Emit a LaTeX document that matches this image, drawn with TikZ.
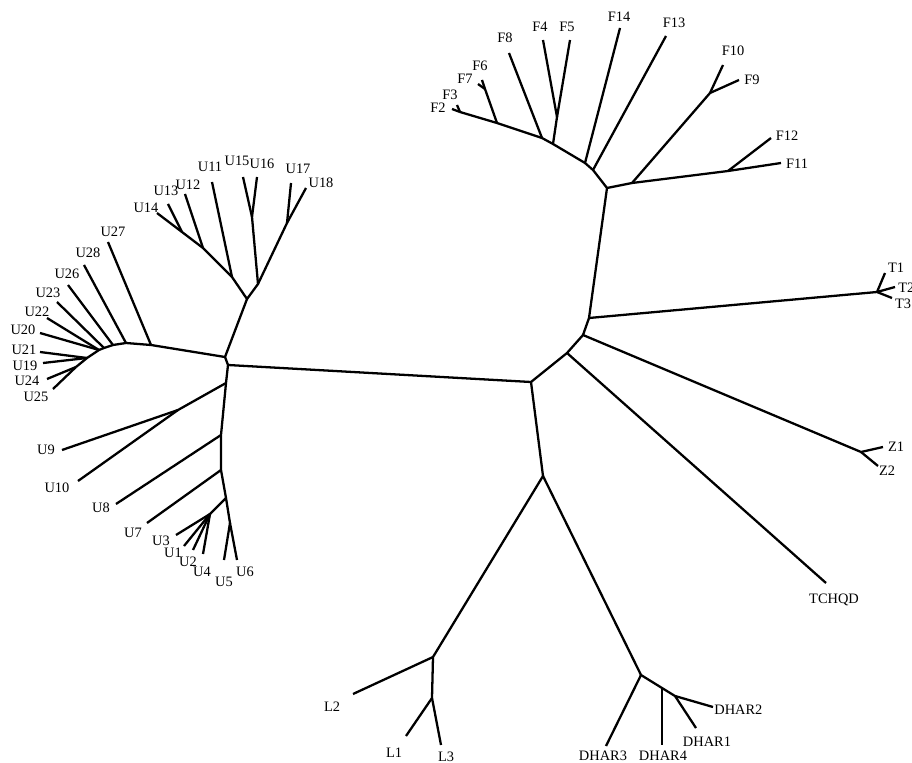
\documentclass[tikz,border=0pt]{standalone}
\usepackage{fontspec}
\setmainfont{Liberation Serif}
\tikzset{
  branch/.style={line width=1.3pt, line join=round},
  taxon/.style={font=\fontsize{8.2}{9}\selectfont, inner sep=0pt},
}
\begin{document}
\begin{tikzpicture}[x=0.02cm, y=-0.02cm]
    \useasboundingbox (0,0) rectangle (912,763);
    % Backbone
    \coordinate (hubA) at (225,357);
    \coordinate (hubB) at (228,365);
    \coordinate (mid) at (531,382);
    \coordinate (nTC) at (567,353);
    \coordinate (nZ) at (583,335);
    \coordinate (nT) at (589,318);
    \coordinate (nF) at (607,188);
    \coordinate (nLD) at (543,476);
    \draw[branch] (hubA) -- (hubB) -- (mid) -- (nTC) -- (nZ) -- (nT) -- (nF);
    \draw[branch] (mid) -- (nLD);
    % U clade, lower part
    \coordinate (uA) at (226,383);
    \coordinate (uB) at (221,435);
    \coordinate (uC) at (221,470);
    \coordinate (uD) at (226,498);
    \coordinate (uE) at (230,523);
    \coordinate (u910) at (178,410);
    \coordinate (u1234) at (210,514);
    \coordinate (tu9) at (62,450);
    \coordinate (tu10) at (78,481);
    \coordinate (tu8) at (116,504);
    \coordinate (tu7) at (147,523);
    \coordinate (tu3) at (176,535);
    \coordinate (tu1) at (184,546);
    \coordinate (tu2) at (193,550);
    \coordinate (tu4) at (203,554);
    \coordinate (tu5) at (224,560);
    \coordinate (tu6) at (237,560);
    \draw[branch] (hubB) -- (uA) -- (uB) -- (uC) -- (uD) -- (uE);
    \draw[branch] (uA) -- (u910) -- (tu9);
    \draw[branch] (u910) -- (tu10);
    \draw[branch] (uB) -- (tu8);
    \draw[branch] (uC) -- (tu7);
    \draw[branch] (uD) -- (u1234) -- (tu3);
    \draw[branch] (u1234) -- (tu1);
    \draw[branch] (u1234) -- (tu2);
    \draw[branch] (u1234) -- (tu4);
    \draw[branch] (uE) -- (tu5);
    \draw[branch] (uE) -- (tu6);
    \node[taxon] (lu9) at (46,450) {U9};
    \node[taxon] (lu10) at (57,488) {U10};
    \node[taxon] (lu8) at (101,508) {U8};
    \node[taxon] (lu7) at (133,533) {U7};
    \node[taxon] (lu3) at (161,541) {U3};
    \node[taxon] (lu1) at (173,553) {U1};
    \node[taxon] (lu2) at (188,562) {U2};
    \node[taxon] (lu4) at (202,572) {U4};
    \node[taxon] (lu5) at (224,582) {U5};
    \node[taxon] (lu6) at (245,572) {U6};
    % U clade, upper part
    \coordinate (uP) at (247,299);
    \coordinate (uQ) at (232,277);
    \coordinate (uR) at (203,248);
    \coordinate (uS) at (182,232);
    \coordinate (uT) at (258,284);
    \coordinate (uU) at (252,217);
    \coordinate (uV) at (287,223);
    \coordinate (tu11) at (212,182);
    \coordinate (tu12) at (185,194);
    \coordinate (tu13) at (168,204);
    \coordinate (tu14) at (157,213);
    \coordinate (tu15) at (243,177);
    \coordinate (tu16) at (257,177);
    \coordinate (tu17) at (291,183);
    \coordinate (tu18) at (306,188);
    \draw[branch] (hubA) -- (uP) -- (uQ) -- (uR) -- (uS) -- (tu14);
    \draw[branch] (uQ) -- (tu11);
    \draw[branch] (uR) -- (tu12);
    \draw[branch] (uS) -- (tu13);
    \draw[branch] (uP) -- (uT) -- (uV) -- (tu18);
    \draw[branch] (uV) -- (tu17);
    \draw[branch] (uT) -- (uU) -- (tu15);
    \draw[branch] (uU) -- (tu16);
    \node[taxon] (lu11) at (210,167) {U11};
    \node[taxon] (lu12) at (188,185) {U12};
    \node[taxon] (lu13) at (166,191) {U13};
    \node[taxon] (lu14) at (146,208) {U14};
    \node[taxon] (lu15) at (237,161) {U15};
    \node[taxon] (lu16) at (262,164) {U16};
    \node[taxon] (lu17) at (298,169) {U17};
    \node[taxon] (lu18) at (321,183) {U18};
    % U clade, left part
    \coordinate (uW1) at (151,345);
    \coordinate (uW2) at (126,343);
    \coordinate (uW3) at (113,345);
    \coordinate (uW4) at (104,348);
    \coordinate (uW5) at (99,350);
    \coordinate (uW6) at (87,358);
    \coordinate (uW7) at (76,367);
    \coordinate (tu27) at (108,242);
    \coordinate (tu28) at (84,265);
    \coordinate (tu26) at (68,285);
    \coordinate (tu23) at (57,302);
    \coordinate (tu22) at (47,318);
    \coordinate (tu20) at (40,333);
    \coordinate (tu21) at (40,352);
    \coordinate (tu19) at (43,363);
    \coordinate (tu24) at (47,379);
    \coordinate (tu25) at (53,389);
    \draw[branch] (hubA) -- (uW1) -- (uW2) -- (uW3) -- (uW4) -- (uW5) -- (uW6) -- (uW7);
    \draw[branch] (uW1) -- (tu27);
    \draw[branch] (uW2) -- (tu28);
    \draw[branch] (uW3) -- (tu26);
    \draw[branch] (uW4) -- (tu23);
    \draw[branch] (uW5) -- (tu22);
    \draw[branch] (uW5) -- (tu20);
    \draw[branch] (uW6) -- (tu21);
    \draw[branch] (uW6) -- (tu19);
    \draw[branch] (uW7) -- (tu24);
    \draw[branch] (uW7) -- (tu25);
    \node[taxon] (lu27) at (113,232) {U27};
    \node[taxon] (lu28) at (88,253) {U28};
    \node[taxon] (lu26) at (67,274) {U26};
    \node[taxon] (lu23) at (48,293) {U23};
    \node[taxon] (lu22) at (37,312) {U22};
    \node[taxon] (lu20) at (23,330) {U20};
    \node[taxon] (lu21) at (24,350) {U21};
    \node[taxon] (lu19) at (25,366) {U19};
    \node[taxon] (lu24) at (27,381) {U24};
    \node[taxon] (lu25) at (36,397) {U25};
    % F clade
    \coordinate (fA) at (593,170);
    \coordinate (fB) at (585,163);
    \coordinate (fC) at (553,144);
    \coordinate (fC2) at (557,117);
    \coordinate (fD) at (542,138);
    \coordinate (fE) at (497,123);
    \coordinate (fE2) at (485,89);
    \coordinate (fG) at (460,112);
    \coordinate (fH) at (632,183);
    \coordinate (fH2) at (710,93);
    \coordinate (fI) at (728,171);
    \coordinate (tf13) at (666,36);
    \coordinate (tf14) at (620,28);
    \coordinate (tf4) at (543,40);
    \coordinate (tf5) at (570,40);
    \coordinate (tf8) at (509,53);
    \coordinate (tf6) at (482,80);
    \coordinate (tf7) at (478,84);
    \coordinate (tf3) at (457,105);
    \coordinate (tf2) at (452,109);
    \coordinate (tf10) at (723,65);
    \coordinate (tf9) at (739,80);
    \coordinate (tf12) at (771,138);
    \coordinate (tf11) at (781,163);
    \draw[branch] (nF) -- (fA) -- (fB) -- (fC) -- (fD) -- (fE) -- (fG);
    \draw[branch] (fA) -- (tf13);
    \draw[branch] (fB) -- (tf14);
    \draw[branch] (fC) -- (fC2) -- (tf5);
    \draw[branch] (fC2) -- (tf4);
    \draw[branch] (fD) -- (tf8);
    \draw[branch] (fE) -- (fE2) -- (tf6);
    \draw[branch] (fE2) -- (tf7);
    \draw[branch] (fG) -- (tf3);
    \draw[branch] (fG) -- (tf2);
    \draw[branch] (nF) -- (fH) -- (fI) -- (tf11);
    \draw[branch] (fH) -- (fH2) -- (tf10);
    \draw[branch] (fH2) -- (tf9);
    \draw[branch] (fI) -- (tf12);
    \node[taxon] (lf14) at (619,17) {F14};
    \node[taxon] (lf13) at (674,23) {F13};
    \node[taxon] (lf4) at (540,27) {F4};
    \node[taxon] (lf5) at (567,27) {F5};
    \node[taxon] (lf8) at (505,38) {F8};
    \node[taxon] (lf6) at (480,66) {F6};
    \node[taxon] (lf7) at (465,79) {F7};
    \node[taxon] (lf3) at (450,95) {F3};
    \node[taxon] (lf2) at (438,108) {F2};
    \node[taxon] (lf10) at (733,51) {F10};
    \node[taxon] (lf9) at (752,80) {F9};
    \node[taxon] (lf12) at (787,136) {F12};
    \node[taxon] (lf11) at (797,164) {F11};
    % T, Z and TCHQD
    \coordinate (tN) at (877,292);
    \coordinate (tt1) at (885,273);
    \coordinate (tt2) at (895,287);
    \coordinate (tt3) at (892,298);
    \coordinate (zN) at (861,452);
    \coordinate (tz1) at (883,447);
    \coordinate (tz2) at (878,466);
    \coordinate (ttc) at (826,583);
    \draw[branch] (nT) -- (tN) -- (tt1);
    \draw[branch] (tN) -- (tt2);
    \draw[branch] (tN) -- (tt3);
    \draw[branch] (nZ) -- (zN) -- (tz1);
    \draw[branch] (zN) -- (tz2);
    \draw[branch] (nTC) -- (ttc);
    \node[taxon] (lt1) at (896,268) {T1};
    \node[taxon, anchor=west] (lt2) at (898,288) {T2};
    \node[taxon] (lt3) at (903,304) {T3};
    \node[taxon] (lz1) at (896,447) {Z1};
    \node[taxon] (lz2) at (887,471) {Z2};
    \node[taxon] (ltc) at (834,600) {TCHQD};
    % L and DHAR
    \coordinate (lA) at (433,657);
    \coordinate (lB) at (432,698);
    \coordinate (tl2) at (353,694);
    \coordinate (tl1) at (406,736);
    \coordinate (tl3) at (441,745);
    \coordinate (dA) at (641,675);
    \coordinate (dB) at (662,688);
    \coordinate (dC) at (675,696);
    \coordinate (td3) at (606,746);
    \coordinate (td4) at (662,745);
    \coordinate (td1) at (696,728);
    \coordinate (td2) at (713,707);
    \draw[branch] (nLD) -- (lA) -- (lB) -- (tl1);
    \draw[branch] (lA) -- (tl2);
    \draw[branch] (lB) -- (tl3);
    \draw[branch] (nLD) -- (dA) -- (dB) -- (dC) -- (td2);
    \draw[branch] (dA) -- (td3);
    \draw[branch] (dB) -- (td4);
    \draw[branch] (dC) -- (td1);
    \node[taxon] (ll2) at (332,707) {L2};
    \node[taxon] (ll1) at (394,753) {L1};
    \node[taxon] (ll3) at (446,757) {L3};
    \node[taxon] (ld3) at (603,756) {DHAR3};
    \node[taxon] (ld4) at (663,756) {DHAR4};
    \node[taxon] (ld1) at (707,742) {DHAR1};
    \node[taxon, anchor=west] (ld2) at (714,710) {DHAR2};
\end{tikzpicture}
\end{document}
